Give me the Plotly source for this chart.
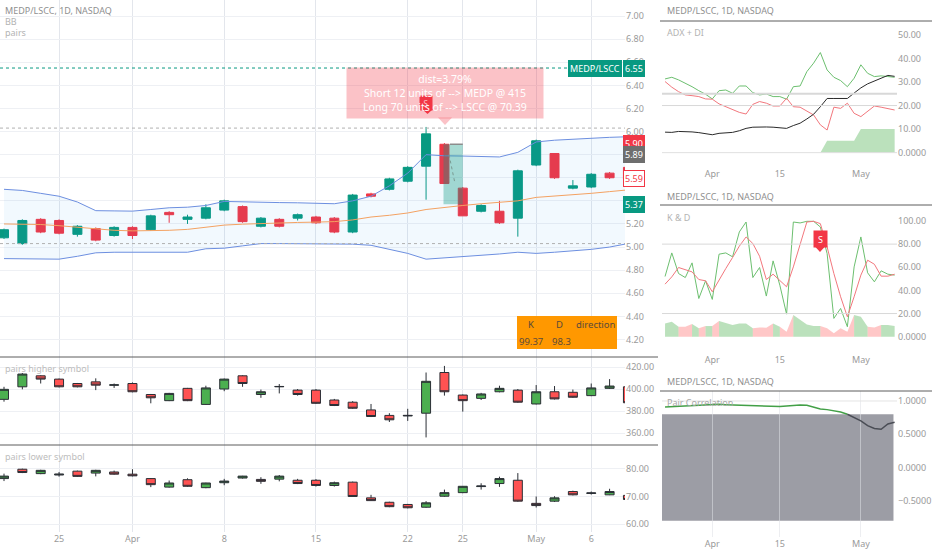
import plotly.graph_objects as go

W, H = 932, 550

DATES = [
    "2024-03-20", "2024-03-21", "2024-03-22", "2024-03-25", "2024-03-26", "2024-03-27", "2024-03-28",
    "2024-04-01", "2024-04-02", "2024-04-03", "2024-04-04", "2024-04-05", "2024-04-08", "2024-04-09",
    "2024-04-10", "2024-04-11", "2024-04-12", "2024-04-15", "2024-04-16", "2024-04-17", "2024-04-18",
    "2024-04-19", "2024-04-22", "2024-04-23", "2024-04-24", "2024-04-25", "2024-04-26", "2024-04-29",
    "2024-04-30", "2024-05-01", "2024-05-02", "2024-05-03", "2024-05-06", "2024-05-07", "2024-05-08",
]

# ratio MEDP/LSCC
RATIO_OPEN = [5.08, 5.03, 5.24, 5.23, 5.11, 5.16, 5.10, 5.17, 5.15, 5.30, 5.24, 5.25, 5.32, 5.35, 5.18, 5.24, 5.25, 5.26,
              5.25, 5.13, 5.46, 5.50, 5.57, 5.70, 5.89, 5.51, 5.31, 5.31, 5.25, 5.71, 5.81, 5.51, 5.52, 5.64, 5.69]
RATIO_HIGH = [5.16, 5.24, 5.25, 5.24, 5.19, 5.17, 5.18, 5.18, 5.28, 5.31, 5.28, 5.37, 5.41, 5.36, 5.26, 5.25, 5.29, 5.27,
              5.26, 5.46, 5.47, 5.60, 5.70, 6.04, 5.90, 5.52, 5.37, 5.40, 5.67, 5.93, 5.81, 5.58, 5.64, 5.65, 5.70]
RATIO_LOW = [5.07, 5.02, 5.12, 5.11, 5.09, 5.05, 5.09, 5.07, 5.14, 5.21, 5.20, 5.24, 5.31, 5.21, 5.17, 5.17, 5.23, 5.20,
             5.12, 5.12, 5.43, 5.49, 5.56, 5.41, 5.55, 5.27, 5.30, 5.20, 5.09, 5.70, 5.59, 5.50, 5.51, 5.59, 5.58]
RATIO_CLOSE = [5.15, 5.23, 5.13, 5.12, 5.18, 5.06, 5.17, 5.10, 5.27, 5.28, 5.26, 5.34, 5.40, 5.22, 5.25, 5.18, 5.28, 5.21,
               5.13, 5.45, 5.44, 5.59, 5.69, 5.98, 5.55, 5.27, 5.36, 5.21, 5.66, 5.92, 5.60, 5.53, 5.63, 5.60, 5.59]

BB_UPPER = [5.50, 5.49, 5.465, 5.44, 5.39, 5.315, 5.313, 5.311, 5.325, 5.34, 5.345, 5.36, 5.395, 5.39, 5.387, 5.385,
            5.383, 5.38, 5.375, 5.40, 5.44, 5.53, 5.64, 5.80, 5.79, 5.788, 5.785, 5.78, 5.82, 5.91, 5.925, 5.935,
            5.945, 5.95, 5.955]
BB_BASIS = [5.20, 5.20, 5.195, 5.185, 5.17, 5.16, 5.145, 5.14, 5.14, 5.145, 5.153, 5.17, 5.19, 5.198, 5.205, 5.21,
            5.213, 5.216, 5.22, 5.235, 5.26, 5.275, 5.295, 5.325, 5.345, 5.36, 5.375, 5.385, 5.40, 5.43, 5.44, 5.45,
            5.465, 5.48, 5.495]
BB_LOWER = [4.90, 4.90, 4.90, 4.895, 4.92, 4.95, 4.955, 4.955, 4.955, 4.955, 4.955, 4.985, 4.99, 5.01, 5.03, 5.03,
            5.03, 5.03, 5.03, 5.025, 5.015, 4.98, 4.945, 4.895, 4.905, 4.92, 4.93, 4.94, 4.955, 4.945, 4.955, 4.965,
            4.98, 5.0, 5.03]

# pairs higher symbol (MEDP)
HI_OPEN = [390.6, 402, 412, 409, 405, 406.5, 403.4, 405, 395, 389.4, 400.6, 386, 400, 412, 395, 402, 399, 399,
           390, 388, 381, 376, 375.5, 378, 415, 394.5, 391.5, 397.5, 399, 386.4, 397.5, 397, 394, 400.6, 402]
HI_HIGH = [402, 414.5, 412.5, 409.5, 405.5, 409.7, 405, 406, 395.5, 396.5, 401, 403, 409.5, 412.5, 399.5, 404.5, 400, 400,
           391, 389, 386.4, 378, 382, 415, 421, 395, 396.5, 403, 400, 403.6, 402.7, 399.5, 405, 409, 402.5]
HI_LOW = [388.5, 399.7, 405, 401.5, 401.5, 399, 401, 397, 387, 389, 389, 385.5, 398, 402, 392, 396, 394, 386.5,
          384.5, 382, 374.5, 370, 371, 356, 394, 379.4, 390, 397, 387.5, 386, 390.5, 392, 393.5, 400, 387.5]
HI_CLOSE = [399.7, 413.6, 409, 402, 402, 403.5, 403.8, 397.5, 392, 396, 389.4, 401, 409, 405, 397.5, 402.3, 395, 387,
            385, 382.5, 375, 372, 376, 407, 397.5, 389.4, 395.5, 400.6, 388, 397.5, 391, 392.5, 401, 402.7, 387.5]

# pairs lower symbol (LSCC)
LO_OPEN = [76.5, 79.9, 78.3, 77.8, 79.2, 78.5, 78.9, 78.1, 76.5, 73.4, 76.1, 73.2, 75.0, 76.7, 76.2, 76.3, 75.9, 75.9,
           74.0, 75.2, 69.5, 67.9, 67.1, 66.1, 70.1, 71.4, 73.6, 74.7, 75.9, 67.5, 68.3, 71.8, 71.1, 70.6, 70.4]
LO_HIGH = [78.3, 80.1, 79.7, 78.9, 79.4, 79.7, 79.4, 79.9, 76.7, 75.8, 76.6, 75.0, 76.4, 77.5, 77.0, 77.8, 76.4, 76.3,
           75.4, 75.4, 70.6, 68.1, 67.3, 68.3, 72.5, 73.8, 74.8, 77.2, 78.5, 70.0, 70.1, 72.1, 71.8, 72.8, 70.6]
LO_LOW = [75.6, 78.5, 78.1, 77.2, 77.1, 77.3, 77.9, 77.3, 73.4, 73.2, 73.5, 73.0, 74.1, 76.5, 74.6, 75.5, 74.5, 73.6,
          73.6, 70.0, 68.4, 66.1, 65.7, 65.9, 69.9, 71.2, 72.5, 73.5, 68.1, 66.0, 68.0, 70.4, 70.7, 70.5, 68.9]
LO_CLOSE = [77.4, 78.7, 79.5, 78.1, 77.3, 79.5, 78.1, 77.5, 74.3, 74.9, 73.7, 74.9, 75.6, 77.4, 75.5, 77.4, 74.7, 74.0,
            75.0, 70.0, 68.5, 66.3, 65.9, 67.7, 71.4, 73.7, 73.8, 76.5, 68.3, 66.7, 69.5, 70.6, 71.3, 71.8, 68.9]

# ADX + DI
DI_PLUS = [31.3, 32.0, 30.9, 29.5, 28.0, 26.3, 24.8, 22.8, 26.3, 26.6, 25.2, 28.3, 28.3, 25.5, 24.5, 24.9, 23.8, 23.8,
           22.7, 28.0, 28.3, 34.4, 38.0, 42.5, 35.1, 32.0, 30.6, 28.0, 31.6, 37.3, 33.7, 32.3, 32.6, 32.3, 32.0]
DI_MINUS = [30.2, 27.8, 25.9, 24.5, 24.2, 23.8, 22.8, 22.7, 20.7, 19.5, 18.6, 17.1, 16.4, 20.5, 21.7, 21.0, 19.8, 19.8,
            23.1, 19.5, 19.3, 17.7, 16.0, 11.8, 9.6, 19.3, 18.8, 21.0, 16.7, 15.3, 17.4, 19.8, 19.3, 18.8, 18.1]
ADX = [8.7, 8.6, 9.0, 9.0, 8.8, 8.5, 8.2, 7.6, 8.2, 8.5, 8.6, 9.3, 10.3, 10.8, 11.0, 10.9, 10.8, 10.6,
       10.3, 11.5, 12.5, 14.3, 16.3, 19.5, 23.0, 23.0, 22.9, 23.0, 25.3, 27.5, 29.2, 30.5, 31.8, 32.8, 32.4]
TREND_STRENGTH = [0] * 24 + [5] * 5 + [10] * 6
ADX_LEVELS = [25, 20]

# K & D
K_LINE = [52.0, 72.4, 54.6, 51.1, 63.8, 33.0, 48.3, 32.2, 71.3, 72.4, 69.0, 90.5, 99.1, 51.1, 59.8, 35.1, 65.5, 44.5,
          19.5, 99.1, 98.3, 99.7, 99.7, 94.8, 71.8, 15.8, 24.4, 8.6, 60.3, 86.2, 55.2, 47.4, 56.9, 54.0, 53.2]
D_LINE = [45.4, 51.7, 59.8, 58.0, 56.0, 49.4, 48.3, 38.8, 49.4, 58.9, 68.4, 78.2, 86.2, 80.5, 69.5, 49.4, 54.0, 48.9,
          43.1, 60.3, 79.0, 99.1, 99.7, 97.7, 77.6, 54.6, 34.5, 17.2, 34.5, 53.2, 66.1, 62.6, 52.3, 52.3, 54.0]
KD_SPREAD = [11.5, 12.9, 8.6, 8.6, 10.9, 7.2, 9.2, 9.2, 13.5, 11.5, 10.1, 11.5, 11.5, 7.2, 8.0, 7.8, 11.5, 8.6,
             4.3, 18.7, 14.4, 10.6, 9.2, 9.2, 7.2, 2.9, 7.2, 4.3, 18.7, 17.2, 8.6, 8.0, 10.1, 10.1, 9.2]
KD_LEVELS = [80, 20]
KD_SELL_DATE = "2024-04-23"

# Pair correlation
CORRELATION = [0.91, 0.915, 0.92, 0.925, 0.93, 0.94, 0.945, 0.95, 0.95, 0.945, 0.94, 0.935, 0.93, 0.93, 0.925, 0.92,
               0.915, 0.915, 0.925, 0.935, 0.94, 0.935, 0.905, 0.88, 0.87, 0.855, 0.835, 0.80, 0.755, 0.70, 0.63,
               0.585, 0.575, 0.655, 0.68]
CORR_UPPER, CORR_LOWER = 0.8, -0.8

LEFT_TICKS = ["2024-03-25", "2024-04-01", "2024-04-08", "2024-04-15", "2024-04-22", "2024-04-25", "2024-05-01", "2024-05-06"]
LEFT_TICK_TEXT = ["25", "Apr", "8", "15", "22", "25", "May", "6"]
RIGHT_TICKS = ["2024-04-01", "2024-04-15", "2024-05-01"]
RIGHT_TICK_TEXT = ["Apr", "15", "May"]

TABLE_HEAD = ["K", "D", "direction"]
TABLE_ROW = ["99.37", "98.3", ""]

FONT = "Noto Sans"
GRID = "#eef0f4"
TXT = "#9a9a9a"
TICK_SIZE = 9


def px_x(x):
    return x / W


def px_y(y):
    return 1 - y / H


def hline(y, ax, line):
    fig.add_shape(type="line", xref=f"x{ax} domain", yref=f"y{ax}", x0=0, x1=1, y0=y, y1=y, line=line)


fig = go.Figure()

# ---- main ratio panel
fig.add_trace(go.Scatter(x=DATES, y=BB_LOWER, mode="lines", line=dict(color="#6d8fe0", width=1),
                         xaxis="x", yaxis="y", hoverinfo="skip"))
fig.add_trace(go.Scatter(x=DATES, y=BB_UPPER, mode="lines", line=dict(color="#6d8fe0", width=1),
                         fill="tonexty", fillcolor="rgba(33,150,243,0.06)", xaxis="x", yaxis="y", hoverinfo="skip"))
fig.add_trace(go.Scatter(x=DATES, y=BB_BASIS, mode="lines", line=dict(color="#f4a262", width=1),
                         xaxis="x", yaxis="y", hoverinfo="skip"))
fig.add_trace(go.Candlestick(
    x=DATES, open=RATIO_OPEN, high=RATIO_HIGH, low=RATIO_LOW, close=RATIO_CLOSE,
    increasing=dict(line=dict(color="#089981", width=1), fillcolor="#089981"),
    decreasing=dict(line=dict(color="#f23645", width=1), fillcolor="#f23645"),
    xaxis="x", yaxis="y",
))

pair_style = dict(
    increasing=dict(line=dict(color="#2b2f36", width=1), fillcolor="#4caf50"),
    decreasing=dict(line=dict(color="#2b2f36", width=1), fillcolor="#ff5252"),
)
fig.add_trace(go.Candlestick(x=DATES, open=HI_OPEN, high=HI_HIGH, low=HI_LOW, close=HI_CLOSE,
                             xaxis="x2", yaxis="y2", **pair_style))
fig.add_trace(go.Candlestick(x=DATES, open=LO_OPEN, high=LO_HIGH, low=LO_LOW, close=LO_CLOSE,
                             xaxis="x3", yaxis="y3", **pair_style))

# ---- ADX + DI
fig.add_trace(go.Scatter(x=DATES, y=TREND_STRENGTH, mode="lines", line=dict(width=0),
                         fill="tozeroy", fillcolor="rgba(76,175,80,0.38)", xaxis="x4", yaxis="y4", hoverinfo="skip"))
for lvl, w in zip(ADX_LEVELS, [2, 1]):
    hline(lvl, 4, dict(color="#d8d8d8", width=w))
hline(0, 4, dict(color="#e0e0e0", width=1))
fig.add_trace(go.Scatter(x=DATES, y=DI_PLUS, mode="lines", line=dict(color="#6cbf6f", width=1),
                         xaxis="x4", yaxis="y4"))
fig.add_trace(go.Scatter(x=DATES, y=DI_MINUS, mode="lines", line=dict(color="#f2777d", width=1),
                         xaxis="x4", yaxis="y4"))
fig.add_trace(go.Scatter(x=DATES, y=ADX, mode="lines", line=dict(color="#2a2a2a", width=1),
                         xaxis="x4", yaxis="y4"))

# ---- K & D: spread area coloured by K vs D
i = 0
n = len(DATES)
while i < n:
    up = K_LINE[i] >= D_LINE[i]
    j = i
    while j + 1 < n and (K_LINE[j + 1] >= D_LINE[j + 1]) == up:
        j += 1
    end = min(j + 1, n - 1)
    fig.add_trace(go.Scatter(
        x=DATES[i:end + 1], y=KD_SPREAD[i:end + 1], mode="lines", line=dict(width=0),
        fill="tozeroy", fillcolor="rgba(76,175,80,0.38)" if up else "rgba(255,82,82,0.32)",
        xaxis="x5", yaxis="y5", hoverinfo="skip"))
    i = j + 1
for lvl in KD_LEVELS:
    hline(lvl, 5, dict(color="#d8d8d8", width=1))
fig.add_trace(go.Scatter(x=DATES, y=K_LINE, mode="lines", line=dict(color="#6cbf6f", width=1),
                         xaxis="x5", yaxis="y5"))
fig.add_trace(go.Scatter(x=DATES, y=D_LINE, mode="lines", line=dict(color="#f2777d", width=1),
                         xaxis="x5", yaxis="y5"))

# ---- correlation
cut = max(k for k, v in enumerate(CORRELATION) if v >= CORR_UPPER)
fig.add_trace(go.Scatter(x=DATES[:cut + 1], y=CORRELATION[:cut + 1], mode="lines",
                         line=dict(color="#43a047", width=1.5), xaxis="x6", yaxis="y6"))
fig.add_trace(go.Scatter(x=DATES[cut:], y=CORRELATION[cut:], mode="lines",
                         line=dict(color="#4a4d55", width=1.5), xaxis="x6", yaxis="y6"))
fig.add_shape(type="rect", xref="x6 domain", yref="y6", x0=0, x1=0.985, y0=CORR_LOWER, y1=CORR_UPPER,
              fillcolor="#9c9da5", line=dict(width=0), layer="below")
hline(1.0, 6, dict(color="#e4e4e4", width=1))

# ---- horizontal drawings on ratio
fig.add_shape(type="line", xref="x domain", yref="y", x0=0, x1=1, y0=6.55, y1=6.55,
              line=dict(color="#089981", width=1, dash="dot"))
for lvl in (6.03, 5.03):
    fig.add_shape(type="line", xref="x domain", yref="y", x0=0, x1=1, y0=lvl, y1=lvl,
                  line=dict(color="#b0b0b0", width=1, dash="dot"))

# position box (Apr 24 -> Apr 25)
fig.add_shape(type="rect", xref="x", yref="y", x0=23.95, x1=25.0, y0=5.37, y1=5.89,
              fillcolor="rgba(8,153,129,0.35)", line=dict(width=0))
fig.add_shape(type="line", xref="x", yref="y", x0=24.3, x1=25.0, y0=5.89, y1=5.89,
              line=dict(color="#8c8c8c", width=1.5))
fig.add_shape(type="line", xref="x", yref="y", x0=24.25, x1=24.55, y0=5.80, y1=5.57,
              line=dict(color="#7a9a92", width=1, dash="dot"))

# ---- axes
LEFT_DOM = [0, px_x(625)]
RIGHT_DOM = [px_x(662), px_x(897)]


def xcat(domain, anchor, ticks, texts, rng, labels, grid=True, gridcolor="#e3e6ec"):
    return dict(type="category", domain=domain, anchor=anchor, range=rng, tickmode="array", tickvals=ticks,
                ticktext=texts, showticklabels=labels, showgrid=grid, gridcolor=gridcolor, zeroline=False,
                rangeslider=dict(visible=False), ticks="", showline=False,
                tickfont=dict(size=TICK_SIZE, color=TXT, family=FONT), fixedrange=True)


def yright(domain, anchor, rng, **kw):
    d = dict(domain=domain, anchor=anchor, range=rng, side="right", showgrid=True, gridcolor=GRID,
             zeroline=False, ticks="", showline=False, fixedrange=True,
             tickfont=dict(size=TICK_SIZE, color=TXT, family=FONT))
    d.update(kw)
    return d


left_rng = [-0.218, 33.84]
right_rng = [-0.45, 34.35]

fig.update_layout(
    width=W, height=H, margin=dict(l=0, r=0, t=0, b=0),
    paper_bgcolor="white", plot_bgcolor="white", showlegend=False,
    font=dict(family=FONT, size=10, color=TXT),
    xaxis=xcat(LEFT_DOM, "y", LEFT_TICKS, LEFT_TICK_TEXT, left_rng, False),
    xaxis2=xcat(LEFT_DOM, "y2", LEFT_TICKS, LEFT_TICK_TEXT, left_rng, False),
    xaxis3=xcat(LEFT_DOM, "y3", LEFT_TICKS, LEFT_TICK_TEXT, left_rng, True),
    xaxis4=xcat(RIGHT_DOM, "y4", RIGHT_TICKS, RIGHT_TICK_TEXT, right_rng, True, grid=False),
    xaxis5=xcat(RIGHT_DOM, "y5", RIGHT_TICKS, RIGHT_TICK_TEXT, right_rng, True, grid=False),
    xaxis6=xcat(RIGHT_DOM, "y6", RIGHT_TICKS, RIGHT_TICK_TEXT, right_rng, True,
                gridcolor="rgba(222,224,230,0.55)"),
    yaxis=yright([px_y(357), 1], "x", [4.048, 7.139], dtick=0.2, tickformat=".2f"),
    yaxis2=yright([px_y(445), px_y(357)], "x2", [349.1, 429.1], dtick=20, tickformat=".2f"),
    yaxis3=yright([px_y(532), px_y(445)], "x3", [57.1, 88.7], dtick=10, tickformat=".2f"),
    yaxis4=yright([px_y(167), px_y(21)], "x4", [-6.1, 55.9], showgrid=False, tickmode="array",
                  tickvals=[0, 10, 20, 30, 40, 50], ticktext=["0.0000", "10.00", "20.00", "30.00", "40.00", "50.00"]),
    yaxis5=yright([px_y(353), px_y(205)], "x5", [-14.1, 113.8], showgrid=False, tickmode="array",
                  tickvals=[0, 20, 40, 60, 80, 100],
                  ticktext=["0.0000", "20.00", "40.00", "60.00", "80.00", "100.00"]),
    yaxis6=yright([px_y(537), px_y(391)], "x6", [-1.046, 1.15], showgrid=False, tickmode="array",
                  tickvals=[-0.5, 0, 0.5, 1.0], ticktext=["\u22120.5000", "0.0000", "0.5000", "1.0000"]),
)

# ---- panel separators
for y in (357, 445):
    fig.add_shape(type="line", xref="paper", yref="paper", x0=0, x1=px_x(658), y0=px_y(y), y1=px_y(y),
                  line=dict(color="#5d5d5d", width=1))
for y in (21, 205, 391):
    fig.add_shape(type="line", xref="paper", yref="paper", x0=px_x(660), x1=1, y0=px_y(y), y1=px_y(y),
                  line=dict(color="#5d5d5d", width=1))


def label(text, x, y, size=9, color="#8f8f8f", **kw):
    fig.add_annotation(text=text, x=px_x(x), y=px_y(y), xref="paper", yref="paper", showarrow=False,
                       xanchor="left", yanchor="middle", font=dict(size=size, color=color, family=FONT), **kw)


label("MEDP/LSCC, 1D, NASDAQ", 3, 10)
label("BB", 3, 21, color="#b3b3b3")
label("pairs", 3, 32, color="#b3b3b3")
label("pairs higher symbol", 3, 368, color="#bdbdbd")
label("pairs lower symbol", 3, 456, color="#bdbdbd")
for y in (10, 196, 381):
    label("MEDP/LSCC, 1D, NASDAQ", 665, y)
label("ADX + DI", 665, 32, color="#b3b3b3")
label("K & D", 665, 217, color="#b3b3b3")
label("Pair Correlation", 665, 402, color="#a8a8a8")

# sell markers
fig.add_annotation(text="S", x="2024-04-23", y=6.25, xref="x", yref="y", showarrow=False, yanchor="middle",
                   bgcolor="#f23645", width=10, height=12, font=dict(size=8, color="white", family=FONT))
fig.add_shape(type="path", xref="paper", yref="paper",
              path=f"M {px_x(422)} {px_y(109)} L {px_x(433)} {px_y(109)} L {px_x(427.5)} {px_y(114)} Z",
              fillcolor="#f23645", line=dict(width=0))
fig.add_annotation(text="S", x=KD_SELL_DATE, y=84, xref="x5", yref="y5", showarrow=False, yanchor="middle",
                   bgcolor="#f23645", width=11, height=14, font=dict(size=9, color="white", family=FONT))
fig.add_shape(type="path", xref="paper", yref="paper",
              path=f"M {px_x(814.5)} {px_y(246)} L {px_x(825.5)} {px_y(246)} L {px_x(820)} {px_y(252)} Z",
              fillcolor="#f23645", line=dict(width=0))

# trade label
fig.add_annotation(
    text="dist=3.79%<br>Short 12 units of --> MEDP @ 415<br>Long 70 units of --> LSCC @ 70.39",
    x=px_x(445), y=px_y(93), xref="paper", yref="paper", showarrow=False, width=194, height=48,
    xanchor="center", yanchor="middle",
    bgcolor="rgba(242,54,69,0.3)", align="center", valign="middle",
    font=dict(size=10.5, color="white", family=FONT))
fig.add_shape(type="path", xref="paper", yref="paper",
              path=f"M {px_x(438)} {px_y(117.5)} L {px_x(452)} {px_y(117.5)} L {px_x(445)} {px_y(125)} Z",
              fillcolor="rgba(242,54,69,0.3)", line=dict(width=0))

# table
fig.add_shape(type="rect", xref="paper", yref="paper", x0=px_x(517), x1=px_x(617), y0=px_y(349), y1=px_y(316),
              fillcolor="#ff9800", line=dict(width=0))
for txt, cx in zip(TABLE_HEAD, [531, 559, 596]):
    fig.add_annotation(text=txt, x=px_x(cx), y=px_y(324.5), xref="paper", yref="paper", showarrow=False,
                       xanchor="center", yanchor="middle", font=dict(size=9.5, color="#5b4a3a", family=FONT))
for txt, cx in zip(TABLE_ROW, [531, 561, 596]):
    if txt:
        fig.add_annotation(text=txt, x=px_x(cx), y=px_y(341), xref="paper", yref="paper", showarrow=False,
                           xanchor="center", yanchor="middle", font=dict(size=9.5, color="#5b4a3a", family=FONT))


# price scale labels
def price_tag(text, x, price, bg, fg="white", border=None, yshift=0, anchor="left"):
    fig.add_annotation(text=text, x=px_x(x), y=price, xref="paper", yref="y", showarrow=False,
                       xanchor=anchor, yanchor="middle", bgcolor=bg, bordercolor=border or bg, borderwidth=1,
                       borderpad=1, yshift=yshift, font=dict(size=9, color=fg, family=FONT))


price_tag("MEDP/LSCC", 622, 6.55, "#089981", anchor="right")
price_tag("6.55", 623, 6.55, "#089981")
price_tag("5.90", 623, 5.90, "#f23645")
price_tag("5.89", 623, 5.89, "#6e6e6e", yshift=-10.5)
price_tag("5.59", 623, 5.59, "white", fg="#f23645", border="#f23645")
price_tag("5.37", 623, 5.37, "#089981")

fig.write_html("out.html", config={"displayModeBar": False},
               post_script="document.body.style.margin='0px';"
                           "document.documentElement.style.overflow='hidden';")
